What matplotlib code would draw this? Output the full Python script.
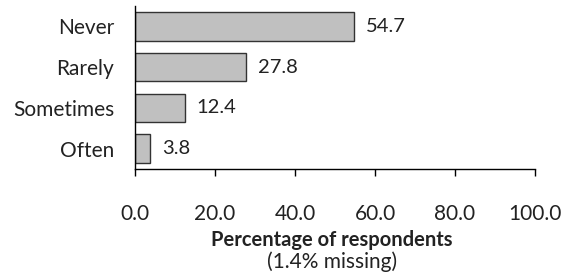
import matplotlib
matplotlib.use("Agg")
import matplotlib.pyplot as plt

categories = ["Never", "Rarely", "Sometimes", "Often"]
values = [54.7, 27.8, 12.4, 3.8]
xticks = [0, 20, 40, 60, 80, 100]
xtick_labels = ["0.0", "20.0", "40.0", "60.0", "80.0", "100.0"]

plt.rcParams['font.family'] = ['Lato', 'DejaVu Sans']

fig = plt.figure(figsize=(5.68, 2.73), dpi=100)
ax = fig.add_axes([135/568, 1-169/273, 400/568, 163/273])

ypos = list(range(len(categories)))[::-1]
ax.barh(ypos, values, height=0.7, color="#c0c0c0", edgecolor="#333333", linewidth=1.0)
for y, v in zip(ypos, values):
    ax.text(v + 3, y, f"{v:.1f}", va="center", ha="left", fontsize=14.5, color="#222222")

ax.set_yticks(ypos)
ax.set_yticklabels(categories, fontsize=15, color="#222222")
ax.tick_params(axis="y", length=0, pad=15)
ax.set_xticks(xticks)
ax.set_xticklabels(xtick_labels, fontsize=15, color="#222222")
ax.tick_params(axis="x", length=5, pad=20, width=1)
ax.set_xlim(0, 100)
ax.set_ylim(-0.5, 3.5)
for s in ["top", "right"]:
    ax.spines[s].set_visible(False)
ax.spines["left"].set_linewidth(1.0)
ax.spines["bottom"].set_linewidth(1.0)

fig.text(332/568, 1-240/273, "Percentage of respondents", ha="center", va="center",
         fontsize=14.5, fontweight="bold", color="#222222")
fig.text(332/568, 1-262/273, "(1.4% missing)", ha="center", va="center",
         fontsize=15, color="#222222")

fig.savefig("out.png", dpi=100)
